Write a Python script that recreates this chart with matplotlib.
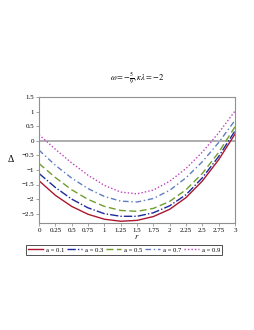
import matplotlib
matplotlib.use('Agg')
import matplotlib.pyplot as plt

# values at r = 0, 0.25, ..., 3
r = [0, 0.25, 0.5, 0.75, 1, 1.25, 1.5, 1.75, 2, 2.25, 2.5, 2.75, 3]
delta_01 = [-1.37, -1.87, -2.25, -2.52, -2.69, -2.76, -2.73, -2.60, -2.35, -1.95, -1.38, -0.65, 0.23]
delta_03 = [-1.12, -1.60, -2.00, -2.30, -2.50, -2.59, -2.59, -2.47, -2.23, -1.85, -1.27, -0.54, 0.34]
delta_05 = [-0.78, -1.26, -1.68, -2.01, -2.25, -2.39, -2.42, -2.32, -2.08, -1.68, -1.12, -0.40, 0.48]
delta_07 = [-0.32, -0.84, -1.28, -1.64, -1.91, -2.07, -2.10, -1.98, -1.70, -1.27, -0.72, -0.06, 0.70]
delta_09 = [0.21, -0.29, -0.76, -1.18, -1.53, -1.76, -1.82, -1.69, -1.39, -0.95, -0.39, 0.27, 1.02]

labels = ['a = 0.1', 'a = 0.3', 'a = 0.5', 'a = 0.7', 'a = 0.9']
colors = ['#a8182e', '#1c2a9c', '#6f9e2c', '#5f7fc0', '#c040c0']
styles = ['-', (0, (6, 1.5, 1, 1.5)), (0, (5, 2.5)), (0, (4, 2, 1, 2)), (0, (1, 1.5))]
xticks = [0, 0.25, 0.5, 0.75, 1, 1.25, 1.5, 1.75, 2, 2.25, 2.5, 2.75, 3]
xticklabels = ['0', '0.25', '0.5', '0.75', '1', '1.25', '1.5', '1.75', '2', '2.25', '2.5', '2.75', '3']
yticks = [1.5, 1, 0.5, 0, -0.5, -1, -1.5, -2, -2.5]
yticklabels = ['1.5', '1', '0.5', '0', '\u22120.5', '\u22121', '\u22121.5', '\u22122', '\u22122.5']

plt.rcParams['font.family'] = ['Liberation Serif', 'DejaVu Serif']
plt.rcParams['mathtext.fontset'] = 'stix'

fig = plt.figure(figsize=(2.55, 3.30), dpi=100)
ax = fig.add_axes([39 / 255, 107 / 330, 196 / 255, 126 / 330])

ax.axhline(0, color='#a0a0a0', lw=1.2, zorder=1)
for ys, lab, c, ls in zip([delta_01, delta_03, delta_05, delta_07, delta_09], labels, colors, styles):
    ax.plot(r, ys, color=c, ls=ls, lw=1.0, label=lab, zorder=2)

ax.set_xlim(0, 3)
ax.set_ylim(-2.82, 1.5)
ax.set_xticks(xticks)
ax.set_xticklabels(xticklabels)
ax.set_yticks(yticks)
ax.set_yticklabels(yticklabels)
ax.tick_params(labelsize=5, length=2, width=0.5, color='#808080', pad=1.5)
for s in ax.spines.values():
    s.set_color('#909090')
    s.set_linewidth(0.8)

ax.set_xlabel('$r$', fontsize=6, labelpad=0)
ax.set_ylabel('\u0394', fontsize=7, rotation=0, labelpad=8, va='center')
ax.set_title(r'$\omega = -\frac{5}{9}, \kappa\lambda = -2$', fontsize=6, pad=11)

leg = fig.legend(loc='center', bbox_to_anchor=(124 / 255, 1 - 250 / 330), ncol=5,
                 fontsize=4.8, frameon=True, fancybox=False, edgecolor='black',
                 handlelength=2.3, handletextpad=0.35, columnspacing=0.45, borderpad=0.3)
leg.get_frame().set_linewidth(0.6)

fig.savefig('out.png', dpi=100)
